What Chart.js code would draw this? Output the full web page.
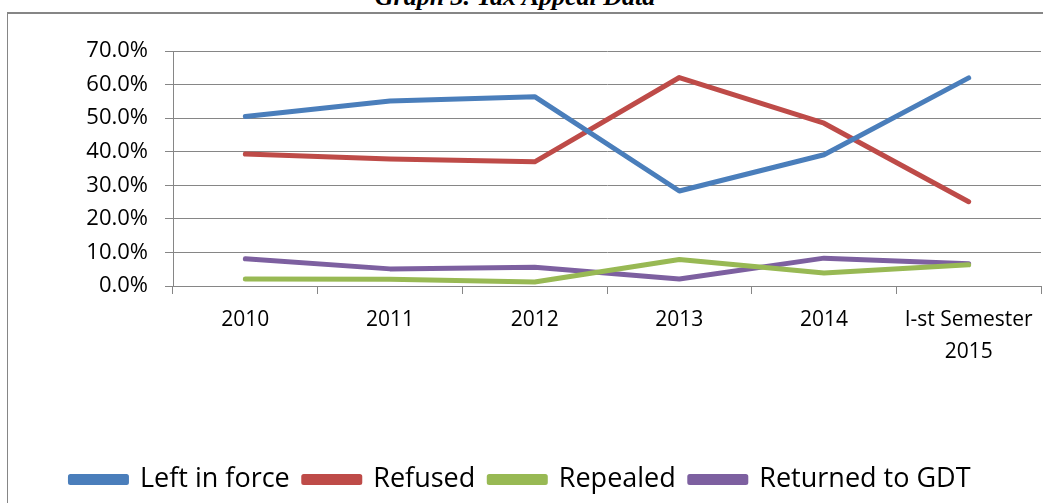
<!DOCTYPE html>
<html>
<head>
<meta charset="utf-8">
<script src="https://cdn.jsdelivr.net/npm/chart.js@4.4.0/dist/chart.umd.min.js"></script>
<style>
  html, body { margin: 0; padding: 0; background: #fff; overflow: hidden; }
  #wrap { position: relative; width: 1043px; height: 503px; }
  #frame { position: absolute; left: 7px; top: 12px; width: 1100px; height: 600px;
           border-left: 1px solid #868686; border-top: 2px solid #868686; }
  #title { position: absolute; left: 0; width: 1030px; top: -18px; text-align: center;
           font: italic bold 26px/30px "Liberation Serif", serif; color: #000; }
  canvas { position: absolute; left: 0; top: 0; }
</style>
</head>
<body>
<div id="wrap">
  <div id="frame"></div>
  <div id="title">Graph 3. Tax Appeal Data</div>
  <canvas id="appealChart" width="1043" height="503"></canvas>
</div>
<script>
// Datos (en %)
const years = ['2010', '2011', '2012', '2013', '2014', ['I-st Semester', '2015']];
const leftInForce = [50.5, 55.1, 56.4, 28.3, 39.1, 62.0];
const refused     = [39.3, 37.8, 37.0, 62.1, 48.5, 25.1];
const repealed    = [2.1, 2.0, 1.2, 7.9, 3.9, 6.3];
const returnedGDT = [8.1, 5.1, 5.6, 2.1, 8.3, 6.6];

const seriesNames  = ['Left in force', 'Refused', 'Repealed', 'Returned to GDT'];
const seriesColors = ['#4A7EBB', '#BE4B48', '#98B954', '#7D60A0'];
const yTicks = [0, 10, 20, 30, 40, 50, 60, 70];

function makeDataset(i, values) {
    return {
        label: seriesNames[i],
        data: values,
        borderColor: seriesColors[i],
        backgroundColor: seriesColors[i],
        borderWidth: 5,
        borderCapStyle: 'round',
        borderJoinStyle: 'round',
        pointRadius: 0,
        tension: 0,
        fill: false
    };
}

function createAppealChart() {
    const ctx = document.getElementById('appealChart').getContext('2d');
    new Chart(ctx, {
        type: 'line',
        data: {
            labels: years,
            datasets: [
                makeDataset(0, leftInForce),
                makeDataset(1, refused),
                makeDataset(2, repealed),
                makeDataset(3, returnedGDT)
            ]
        },
        options: {
            responsive: false,
            animation: false,
            layout: { padding: { left: 0, right: 2, top: 51, bottom: 0 } },
            scales: {
                x: {
                    offset: true,
                    grid: {
                        offset: true,
                        drawOnChartArea: false,
                        drawTicks: true,
                        tickLength: 8,
                        color: '#868686'
                    },
                    border: { color: '#868686', width: 1 },
                    ticks: {
                        color: '#000',
                        padding: 10,
                        maxRotation: 0,
                        autoSkip: false,
                        font: { family: 'Open Sans', size: 21, lineHeight: 1.52 }
                    },
                    afterFit: axis => { axis.height = 166; }
                },
                y: {
                    min: 0,
                    max: 70,
                    afterBuildTicks: axis => { axis.ticks = yTicks.map(v => ({ value: v })); },
                    grid: { color: '#868686', tickLength: 8, lineWidth: 1 },
                    border: { color: '#868686', width: 1 },
                    ticks: {
                        color: '#000',
                        padding: 17,
                        font: { family: 'Open Sans', size: 22 },
                        callback: v => v.toFixed(1) + '%'
                    },
                    afterFit: axis => { axis.width = 173; }
                }
            },
            plugins: {
                legend: {
                    position: 'bottom',
                    labels: {
                        color: '#000',
                        boxWidth: 56,
                        boxHeight: 6,
                        padding: 14,
                        font: { family: 'Open Sans', size: 27 }
                    }
                },
                tooltip: { enabled: false }
            }
        }
    });
}

document.addEventListener('DOMContentLoaded', function() {
    createAppealChart();
});
</script>
</body>
</html>
